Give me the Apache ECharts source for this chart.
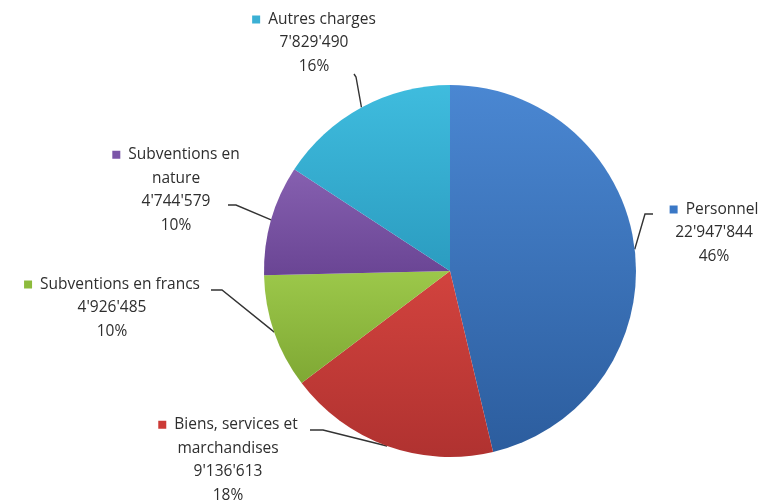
<!DOCTYPE html>
<html>
<head>
<meta charset="utf-8">
<script src="https://cdn.jsdelivr.net/npm/echarts@6/dist/echarts.min.js"></script>
<style>
  html, body { margin: 0; padding: 0; background: #fff; }
  #main { width: 773px; height: 504px; }
</style>
</head>
<body>
<div id="main"></div>
<script>
// données du graphique
const categories = ["Personnel", "Biens, services et\nmarchandises", "Subventions en francs", "Subventions en\nnature", "Autres charges"];
const values = [22947844, 9136613, 4926485, 4744579, 7829490];
const percents = ["46%", "18%", "10%", "10%", "16%"];

const colorsTop = ["#4a87d2", "#d2433e", "#9cc84a", "#8660b0", "#3fbcde"];
const colorsBottom = ["#2c5d9e", "#b03230", "#7fa834", "#6a4594", "#2b9cc0"];
const markerColors = ["#3a78c6", "#cc3a36", "#8dbb3c", "#7b55a8", "#3bb0d4"];
// position du centre de chaque étiquette
const labelPos = [[714, 233], [228, 460], [112, 308], [176, 190], [314, 43]];
// points du trait : coude puis bout côté texte
const lineBend = [[645, 214], [323, 430], [222, 290], [236, 205], [356, 77]];
const lineEnd = [[653, 214], [310, 430], [211, 290], [228, 205], [354, 74]];

function fmt(v) {
	return String(v).replace(/\B(?=(\d{3})+(?!\d))/g, "'");
}

var myChart = echarts.init(document.querySelector("#main"));

var data = [];
for (var i = 0; i < values.length; i++) {
	data.push({
		name: categories[i],
		value: values[i],
		itemStyle: {
			color: new echarts.graphic.LinearGradient(0, 0, 0, 1, [
				{ offset: 0, color: colorsTop[i] },
				{ offset: 1, color: colorsBottom[i] }
			])
		},
		label: {
			rich: {
				m: { width: 8, height: 8, backgroundColor: markerColors[i] }
			}
		}
	});
}

var option = {
	animation: false,
	series: [{
		type: "pie",
		center: [450, 271],
		radius: 186,
		startAngle: 90,
		clockwise: true,
		data: data,
		label: {
			show: true,
			position: "outside",
			fontFamily: "Open Sans",
			fontSize: 15.5,
			color: "#2e2e2e",
			lineHeight: 23.5,
			align: "center",
			formatter: function (p) {
				return "{m|}  " + p.name + "\n" + fmt(p.value) + "\n" + percents[p.dataIndex];
			}
		},
		labelLine: {
			show: true,
			length: 10,
			length2: 10,
			lineStyle: { color: "#333333", width: 1.4 }
		},
		labelLayout: function (params) {
			var k = params.dataIndex;
			var pos = labelPos[k];
			var start = params.labelLinePoints ? params.labelLinePoints[0] : lineBend[k];
			return {
				x: pos[0],
				y: pos[1],
				align: "center",
				verticalAlign: "middle",
				hideOverlap: false,
				labelLinePoints: [start, lineBend[k], lineEnd[k]]
			};
		}
	}]
};
myChart.setOption(option);
</script>
</body>
</html>
